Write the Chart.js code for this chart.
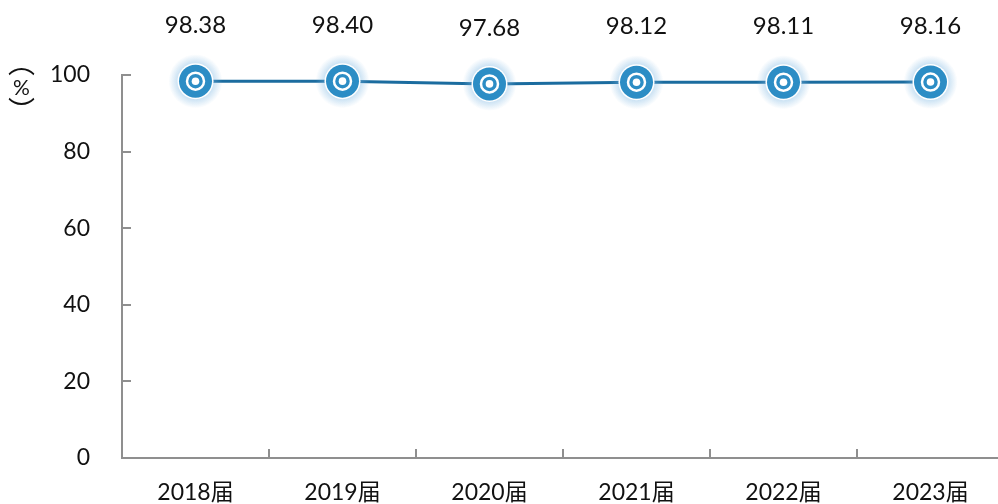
<!DOCTYPE html>
<html>
<head>
<meta charset="utf-8">
<script src="https://cdn.jsdelivr.net/npm/chart.js@4"></script>
<style>
    html, body { margin: 0; padding: 0; background: #fff; overflow: hidden; }
    #wrap { position: relative; width: 998px; height: 504px; overflow: hidden; }
    #unit {
        position: absolute; left: 8px; top: 49px;
        writing-mode: vertical-rl;
        font-family: 'Noto Sans CJK SC', sans-serif;
        font-size: 27px; line-height: 27px; color: #111;
    }
    #unit span {
        text-combine-upright: all;
        font-family: Lato, sans-serif; font-size: 21px;
    }
</style>
</head>
<body>
<div id="wrap">
    <canvas id="myChart" width="1004" height="504"></canvas>
    <div id="unit">（<span>%</span>）</div>
</div>
<script>
// data
var labels = ['2018届', '2019届', '2020届', '2021届', '2022届', '2023届'];
var rates = [98.38, 98.40, 97.68, 98.12, 98.11, 98.16];
var yTicks = [0, 20, 40, 60, 80, 100];

var fontFamily = "Lato, 'Noto Sans CJK SC', sans-serif";
var colorLine = '#1b6c9f';
var colorDot = '#2c8dc5';
var colorAxis = '#8f8f8f';

// inward ticks
var axisDeco = {
    id: 'axisDeco',
    afterDraw: function (chart) {
        var ctx = chart.ctx;
        var x = chart.scales.x, y = chart.scales.y;
        var area = chart.chartArea;
        ctx.save();
        ctx.strokeStyle = colorAxis;
        ctx.lineWidth = 2;
        yTicks.forEach(function (v) {
            if (v === 0) return;
            var py = Math.round(y.getPixelForValue(v));
            ctx.beginPath();
            ctx.moveTo(area.left, py);
            ctx.lineTo(area.left + 9, py);
            ctx.stroke();
        });
        var step = x.getPixelForValue(1) - x.getPixelForValue(0);
        for (var i = 1; i < labels.length; i++) {
            var px = Math.round(x.getPixelForValue(i) - step / 2);
            ctx.beginPath();
            ctx.moveTo(px, area.bottom);
            ctx.lineTo(px, area.bottom - 9);
            ctx.stroke();
        }
        ctx.restore();
    }
};

// marker + value label
var markers = {
    id: 'markers',
    afterDatasetsDraw: function (chart) {
        var ctx = chart.ctx;
        var meta = chart.getDatasetMeta(0);
        ctx.save();
        meta.data.forEach(function (pt, i) {
            var g = ctx.createRadialGradient(pt.x, pt.y, 14, pt.x, pt.y, 27);
            g.addColorStop(0, 'rgba(120,180,225,0.55)');
            g.addColorStop(1, 'rgba(120,180,225,0)');
            ctx.fillStyle = g;
            ctx.beginPath();
            ctx.arc(pt.x, pt.y, 27, 0, Math.PI * 2);
            ctx.fill();

            ctx.fillStyle = '#fff';
            ctx.beginPath();
            ctx.arc(pt.x, pt.y, 18, 0, Math.PI * 2);
            ctx.fill();
            ctx.fillStyle = colorDot;
            ctx.beginPath();
            ctx.arc(pt.x, pt.y, 16.5, 0, Math.PI * 2);
            ctx.fill();
            ctx.strokeStyle = '#fff';
            ctx.lineWidth = 2.5;
            ctx.beginPath();
            ctx.arc(pt.x, pt.y, 8.5, 0, Math.PI * 2);
            ctx.stroke();
            ctx.fillStyle = '#fff';
            ctx.beginPath();
            ctx.arc(pt.x, pt.y, 3.8, 0, Math.PI * 2);
            ctx.fill();

            ctx.fillStyle = '#111';
            ctx.font = '24px ' + fontFamily;
            ctx.textAlign = 'center';
            ctx.textBaseline = 'middle';
            ctx.fillText(rates[i].toFixed(2), pt.x, pt.y - 56);
        });
        ctx.restore();
    }
};

var ctx = document.getElementById('myChart');
var myChart = new Chart(ctx, {
    type: 'line',
    data: {
        labels: labels,
        datasets: [{
            data: rates,
            borderColor: colorLine,
            borderWidth: 3,
            pointRadius: 0,
            tension: 0
        }]
    },
    options: {
        responsive: false,
        animation: false,
        plugins: {
            legend: { display: false },
            tooltip: { enabled: false }
        },
        layout: {
            padding: { top: 75, right: 0, left: 0, bottom: 0 }
        },
        scales: {
            x: {
                offset: true,
                grid: { display: false },
                border: { color: colorAxis, width: 2 },
                ticks: {
                    color: '#111',
                    font: { family: fontFamily, size: 23 },
                    padding: 13,
                    maxRotation: 0
                },
                afterFit: function (scale) { scale.height = 46; }
            },
            y: {
                min: 0,
                max: 100,
                afterBuildTicks: function (scale) {
                    scale.ticks = yTicks.map(function (v) { return { value: v }; });
                },
                grid: { display: false },
                border: { color: colorAxis, width: 2 },
                ticks: {
                    color: '#111',
                    font: { family: fontFamily, size: 23 },
                    padding: 24
                },
                afterFit: function (scale) { scale.width = 122; }
            }
        }
    },
    plugins: [axisDeco, markers]
});
</script>
</body>
</html>
